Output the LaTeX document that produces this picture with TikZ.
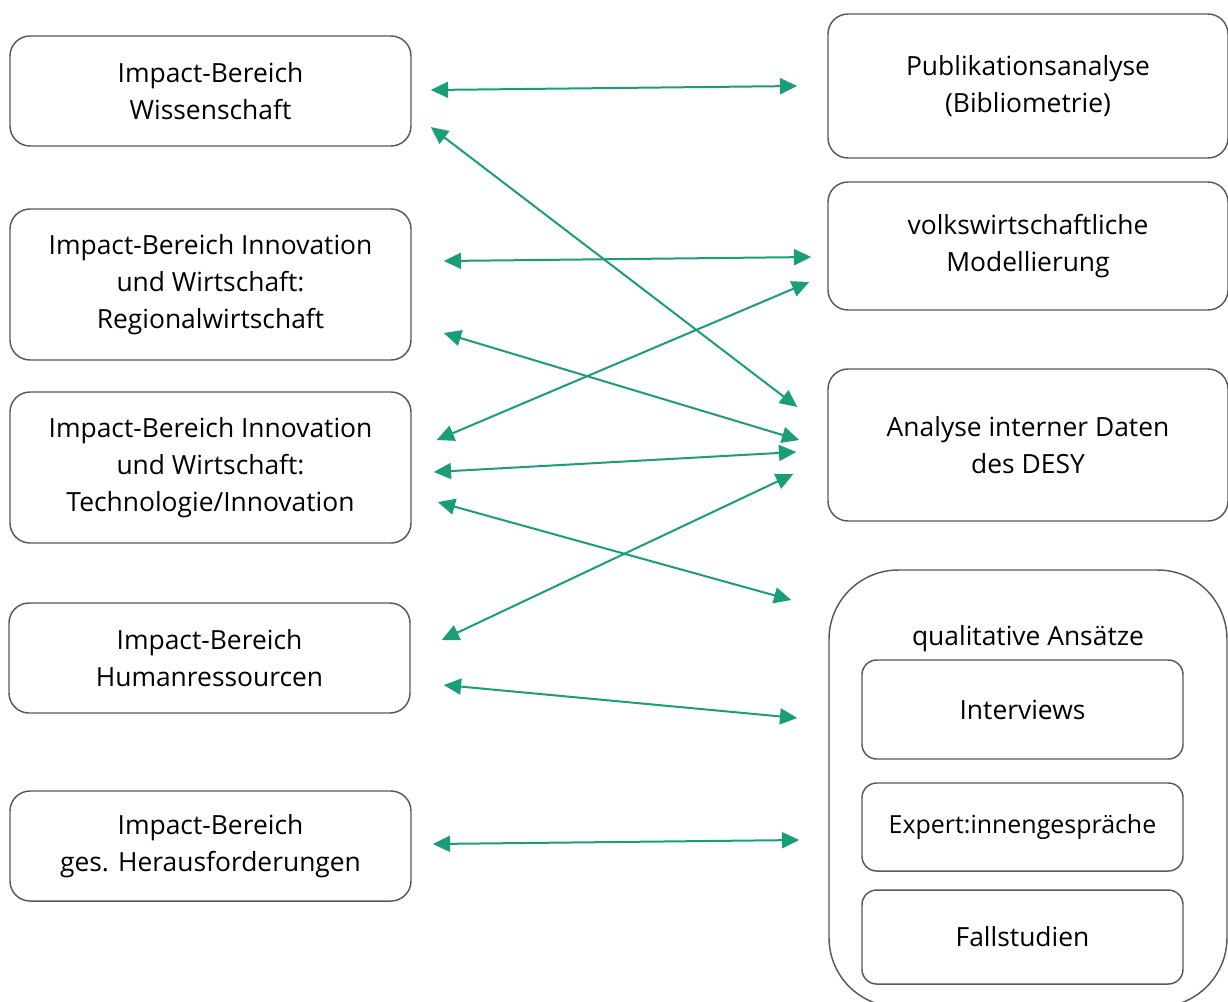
\documentclass[tikz,border=0pt]{standalone}
\usepackage{fontspec}
\setmainfont{Open Sans}
\usepackage{tikz}
\usetikzlibrary{
	positioning,
	arrows.meta,
	calc
}
\definecolor{pfeilgruen}{RGB}{26,158,122}
\definecolor{rahmengrau}{RGB}{89,89,89}

\begin{document}
\begin{tikzpicture}[
	x=0.75pt, y=-0.75pt,
	feld/.style={draw=rahmengrau, line width=1.1pt, rounded corners=15pt,
		align=center, inner sep=0pt, minimum width=300.75pt,
		font=\fontsize{19.8}{27.6}\selectfont},
	methode/.style={feld, rounded corners=11pt, minimum width=240.75pt},
	bezug/.style={draw=pfeilgruen, line width=1.5pt,
		{Triangle[length=13pt,width=12pt]}-{Triangle[length=13pt,width=12pt]}}
]
	\useasboundingbox (0,0) rectangle (1228,1001);
	\draw
		% Impact-Bereiche
		node [feld, minimum height=82.5pt]  (wiss)  at (210.5,91)  {Impact-Bereich\\Wissenschaft}
		node [feld, minimum height=113.25pt] (region) at (210.5,284.5) {Impact-Bereich Innovation\\und Wirtschaft:\\Regionalwirtschaft}
		node [feld, minimum height=113.25pt] (techno) at (210.5,467.5) {Impact-Bereich Innovation\\und Wirtschaft:\\Technologie/Innovation}
		node [feld, minimum height=82.5pt]  (human) at (209.5,658) {Impact-Bereich\\Humanressourcen}
		node [feld, minimum height=82.5pt]  (gesell) at (210.5,846) {Impact-Bereich\\ges. Herausforderungen}

		% Methoden
		node [feld, minimum width=300pt, minimum height=108pt] (biblio) at (1028,86)  {Publikationsanalyse\\(Bibliometrie)}
		node [feld, minimum width=300pt, minimum height=96pt]  (vwl)    at (1028,246) {volkswirtschaftliche\\Modellierung}
		node [feld, minimum width=300pt, minimum height=114pt] (intern) at (1028,445) {Analyse interner Daten\\des DESY}
		node [feld, minimum width=298.5pt, minimum height=327.75pt, rounded corners=52pt] (quali) at (1028,788.5) {}
		node [font=\fontsize{19.8}{27}\selectfont] (qualititel) at (1028,639) {qualitative Ansätze}
		node [methode, minimum height=74.25pt] (interv) at (1022.5,709.5) {Interviews}
		node [methode, minimum height=66pt, font=\fontsize{18.7}{22}\selectfont] (experten) at (1022.5,827) {Expert:innengespräche}
		node [methode, minimum height=70.5pt] (fall) at (1022.5,937) {Fallstudien}

		($(wiss.east)+(19,-1)$)    edge[bezug] ($(biblio.west)+(-30,0)$)
		($(wiss.east)+(19,36)$)    edge[bezug] ($(intern.west)+(-30,-38)$)
		($(region.east)+(32,-23.5)$) edge[bezug] ($(vwl.west)+(-16,11)$)
		($(region.east)+(32,48.5)$)  edge[bezug] ($(intern.west)+(-28,-5)$)
		($(techno.east)+(25,-27.5)$) edge[bezug] ($(vwl.west)+(-18,36)$)
		($(techno.east)+(22,4.5)$)   edge[bezug] ($(intern.west)+(-31,7)$)
		($(techno.east)+(26,34.5)$)  edge[bezug] ($(quali.west)+(-37,-188.5)$)
		($(human.east)+(31,-18)$)  edge[bezug] ($(intern.west)+(-34,29)$)
		($(human.east)+(33,27)$)   edge[bezug] ($(quali.west)+(-31,-70.5)$)
		($(gesell.east)+(21,-2)$)  edge[bezug] ($(quali.west)+(-29,51.5)$)
	;
\end{tikzpicture}
\end{document}
